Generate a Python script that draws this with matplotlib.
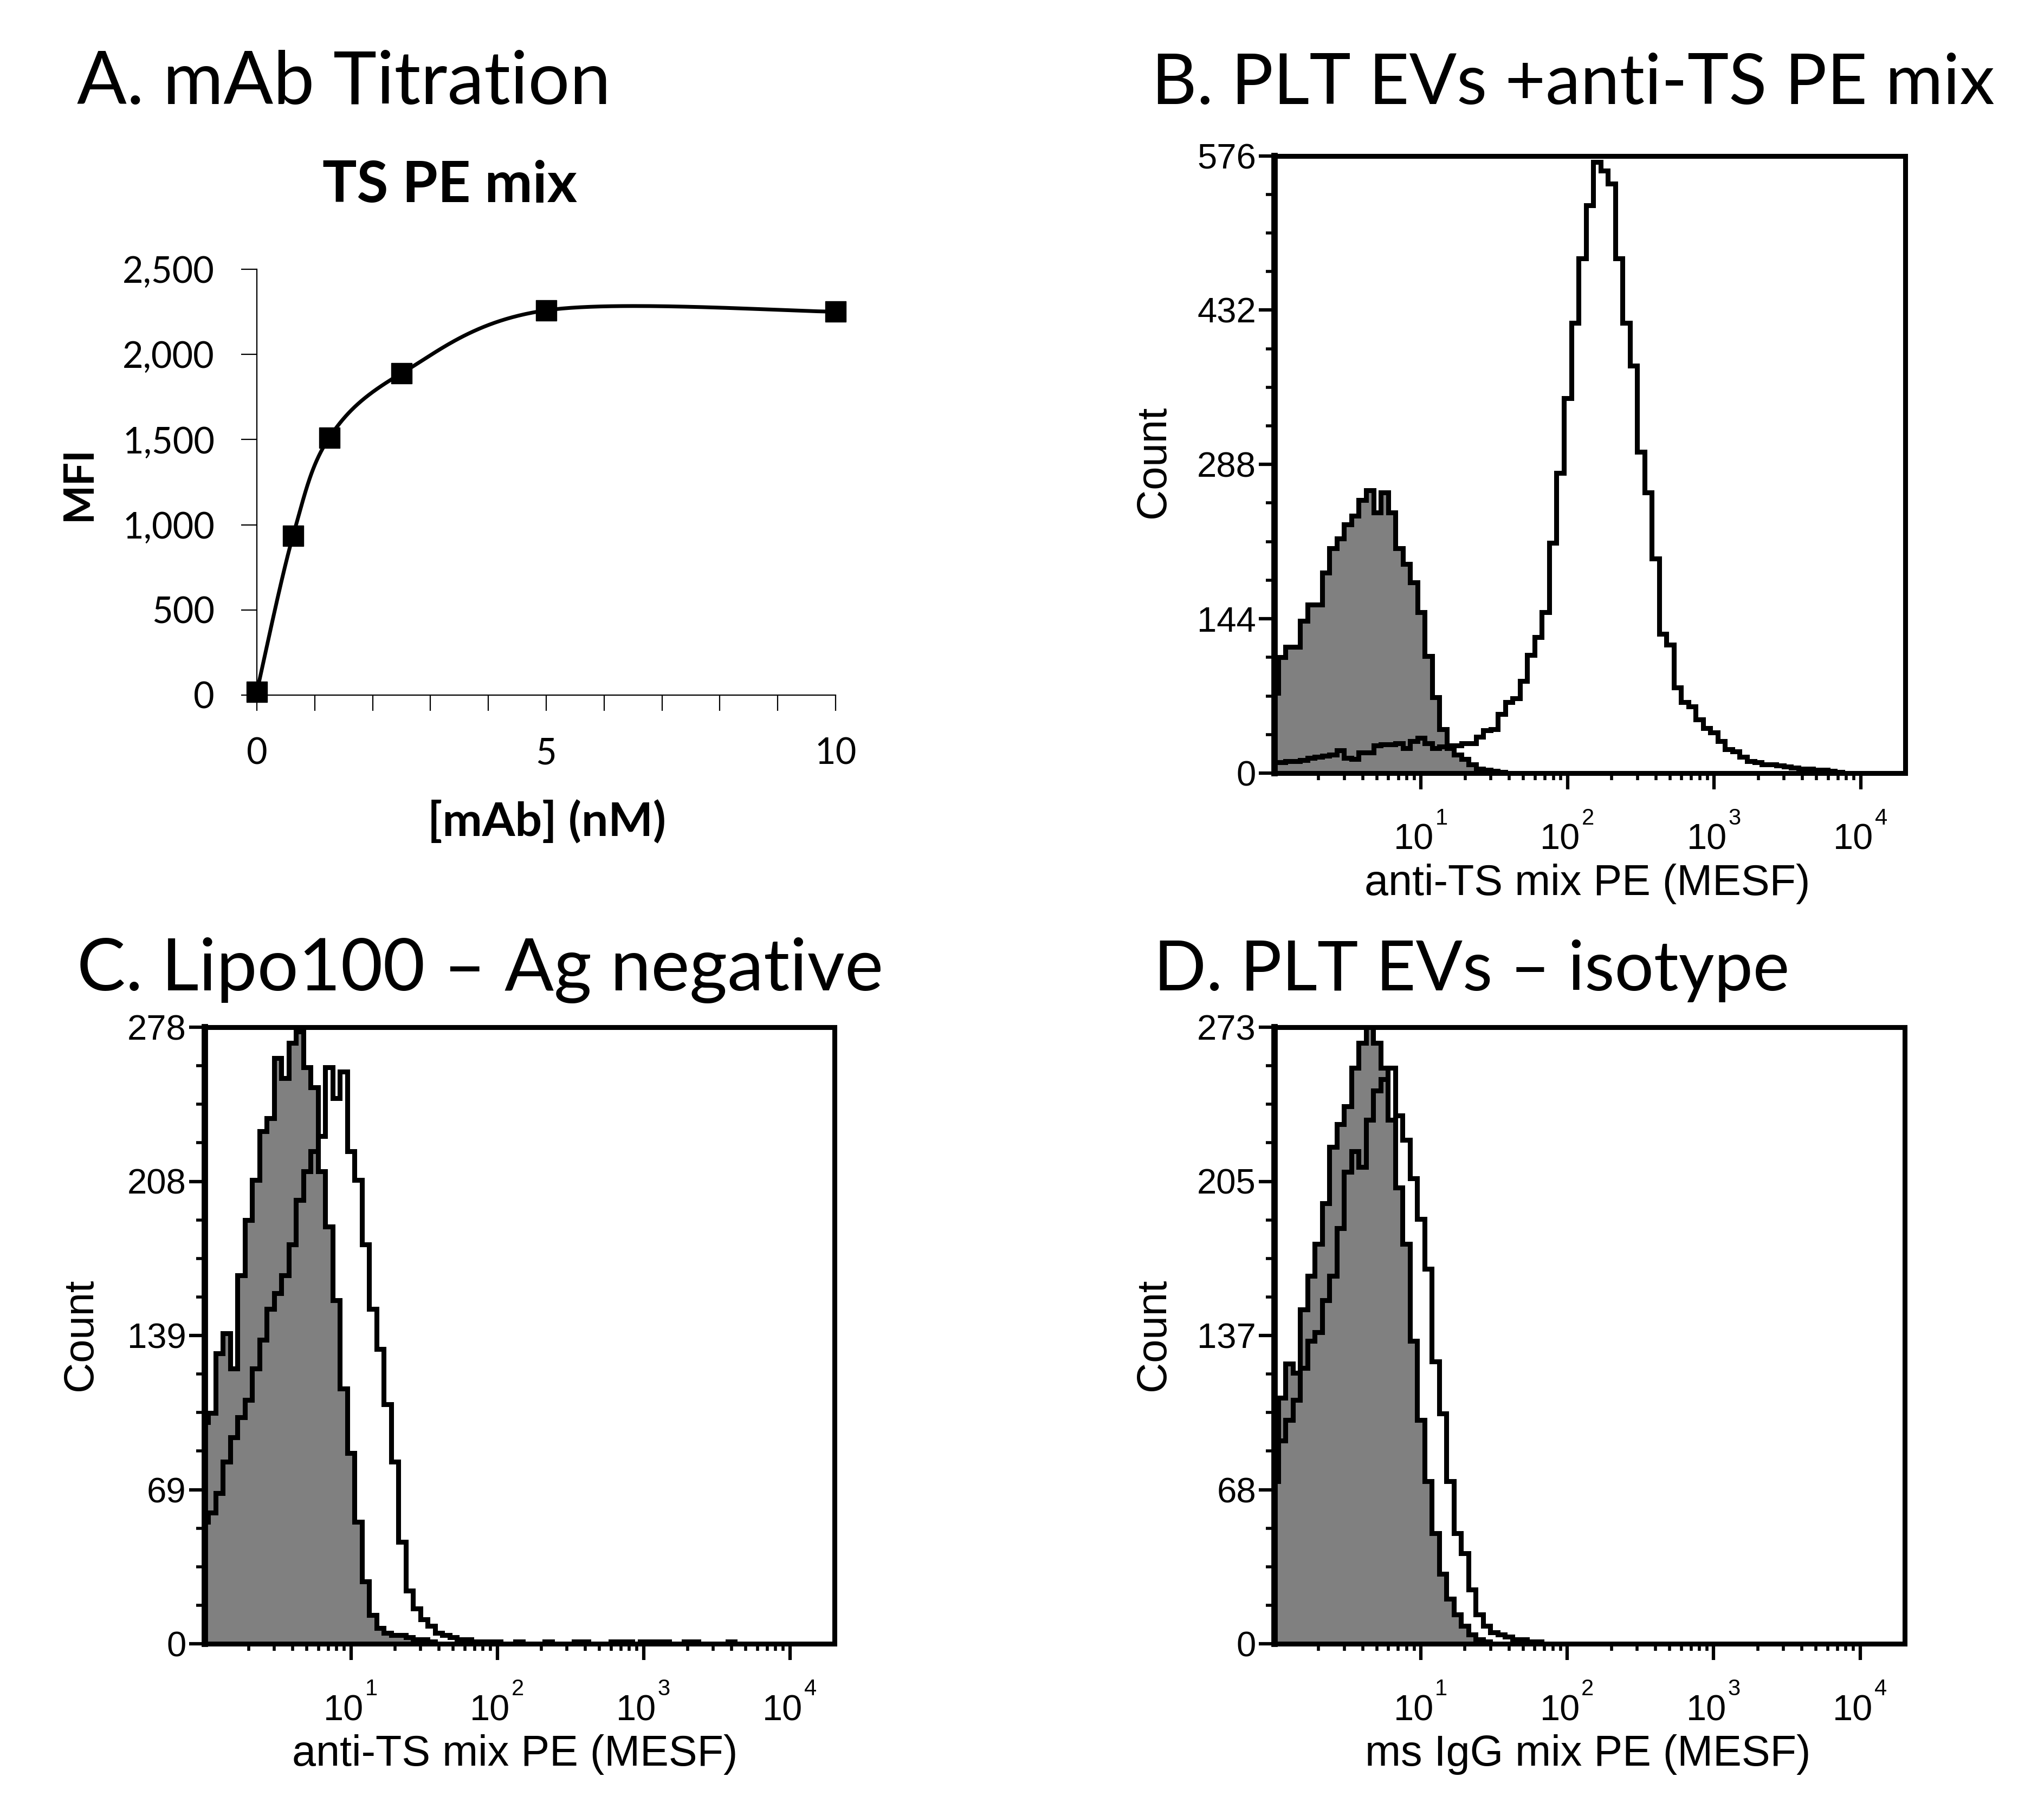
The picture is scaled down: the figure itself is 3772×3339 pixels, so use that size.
import numpy as np
import matplotlib
matplotlib.use("Agg")
import matplotlib.pyplot as plt
from matplotlib import transforms as mtrans
from matplotlib.ticker import FixedLocator, NullFormatter

W, H = 3772, 3339
DPI = 100

# ---------------- Panel A data ----------------
conc_nM = [0, 0.625, 1.25, 2.5, 5, 10]
mfi = [20, 936, 1511, 1889, 2259, 2251]
a_yticks = [0, 500, 1000, 1500, 2000, 2500]
a_ytick_labels = ["0", "500", "1,000", "1,500", "2,000", "2,500"]
a_xticks = [0, 1, 2, 3, 4, 5, 6, 7, 8, 9, 10]
a_xtick_labels = ["0", "", "", "", "", "5", "", "", "", "", "10"]

# ---------------- Histogram data ----------------
# counts per channel; channel centres at log10(MESF) = 0.00, 0.05, 0.10, ...
BIN_STEP = 0.05
b_neg = [75, 108, 118, 118, 142, 157, 157, 187, 210, 219, 232, 240, 255, 264, 243, 262,
         243, 210, 195, 178, 150, 109, 71, 41, 23, 17, 13, 8, 4, 3, 2, 1, 0]
b_pos = [10, 10, 11, 11, 12, 14, 15, 16, 17, 21, 14, 13, 19, 19, 26, 27, 27, 28, 23, 30,
         33, 28, 23, 25, 26, 26, 28, 28, 34, 40, 41, 55, 66, 70, 86, 110, 127, 150, 215, 280,
         350, 420, 480, 530, 570, 562, 550, 480, 420, 380, 300, 262, 200, 130, 120, 80, 66, 62,
         50, 42, 38, 30, 22, 20, 15, 11, 10, 8, 8, 7, 6, 5, 4, 4, 3, 3, 2, 1, 0]
c_neg = [100, 104, 131, 140, 124, 166, 191, 209, 231, 237, 264, 255, 271, 276, 260, 251,
         213, 188, 155, 115, 86, 55, 28, 13, 7, 5, 4, 4, 3, 2, 2, 1, 0]
c_pos = [55, 59, 68, 82, 93, 102, 110, 124, 137, 151, 158, 166, 180, 200, 213, 222, 229,
         260, 246, 258, 222, 209, 180, 151, 133, 108, 82, 46, 24, 16, 11, 8, 5, 4, 3, 2, 2,
         1, 1, 1, 1, 0, 0, 1, 0, 0, 0, 1, 0, 0, 0, 1, 1, 0, 0, 0, 1, 1, 1, 0, 1, 1, 1, 1, 0,
         0, 1, 1, 0, 0, 0, 0, 1, 0]
d_neg = [81, 109, 124, 120, 148, 163, 177, 195, 220, 230, 238, 255, 266, 273, 266, 255,
         232, 202, 177, 134, 99, 72, 49, 31, 20, 13, 8, 4, 2, 1, 0]
d_pos = [72, 90, 99, 108, 122, 134, 138, 152, 163, 184, 209, 218, 211, 232, 245, 250, 255,
         234, 223, 206, 188, 166, 125, 102, 72, 49, 40, 24, 13, 8, 5, 4, 3, 2, 2, 1, 1, 0]

b_ymax, c_ymax, d_ymax = 576, 278, 273
b_ylabels = ["0", "144", "288", "432", "576"]
c_ylabels = ["0", "69", "139", "208", "278"]
d_ylabels = ["0", "68", "137", "205", "273"]
decades = [1, 2, 3, 4]

titles = ["A. mAb Titration", "B. PLT EVs +anti-TS PE mix",
          "C. Lipo100 \u2013 Ag negative", "D. PLT EVs \u2013 isotype"]
xlabels = ["anti-TS mix PE (MESF)", "anti-TS mix PE (MESF)", "ms IgG mix PE (MESF)"]

# ---------------- figure ----------------
fig = plt.figure(figsize=(W / DPI, H / DPI), dpi=DPI)
renderer = fig.canvas.get_renderer()
PX = 72.0 / DPI  # points per pixel


def rect(l, t, r, b):
    return [l / W, 1 - b / H, (r - l) / W, (b - t) / H]


def fx(x):
    return x / W


def fy(y):
    return 1 - y / H


CAL = ["Lato", "DejaVu Sans"]
ARI = ["Liberation Sans", "DejaVu Sans"]


def fit(txt, target, use_height=False):
    bb = txt.get_window_extent(renderer)
    cur = bb.height if use_height else bb.width
    txt.set_fontsize(txt.get_fontsize() * target / cur)


# ---------------- Panel A ----------------
axA = fig.add_axes(rect(474, 497, 1542, 1283))
# Excel-like smoothed line (Catmull-Rom as cubic Bezier)
px_ = np.array(conc_nM, float)
py_ = np.array(mfi, float)
xs, ys = [], []
n = len(px_)
for i in range(n - 1):
    p0 = (px_[max(i - 1, 0)], py_[max(i - 1, 0)])
    p1 = (px_[i], py_[i])
    p2 = (px_[i + 1], py_[i + 1])
    p3 = (px_[min(i + 2, n - 1)], py_[min(i + 2, n - 1)])
    c1 = (p1[0] + (p2[0] - p0[0]) / 6, p1[1] + (p2[1] - p0[1]) / 6)
    c2 = (p2[0] - (p3[0] - p1[0]) / 6, p2[1] - (p3[1] - p1[1]) / 6)
    t = np.linspace(0, 1, 60)
    for k in range(2):
        arr = ((1 - t) ** 3 * p1[k] + 3 * (1 - t) ** 2 * t * c1[k]
               + 3 * (1 - t) * t ** 2 * c2[k] + t ** 3 * p2[k])
        (xs if k == 0 else ys).append(arr)
axA.plot(np.concatenate(xs), np.concatenate(ys), color="black", lw=5, clip_on=False,
         solid_capstyle="round", zorder=3)
axA.plot(conc_nM, mfi, linestyle="none", marker="s", ms=27, color="black", clip_on=False,
         zorder=4)
axA.set_xlim(0, 10)
axA.set_ylim(0, 2500)
for s in ["top", "right"]:
    axA.spines[s].set_visible(False)
for s in ["left", "bottom"]:
    axA.spines[s].set_linewidth(1.6)
axA.set_yticks(a_yticks)
axA.set_yticklabels(a_ytick_labels)
axA.set_xticks(a_xticks)
axA.set_xticklabels(a_xtick_labels)
axA.tick_params(axis="both", direction="out", length=29 * PX, width=1.6, pad=49 * PX,
                labelsize=48)
for lab in axA.get_xticklabels() + axA.get_yticklabels():
    lab.set_fontfamily(CAL)

tA = fig.text(fx(830), fy(373), "TS PE mix", ha="center", va="baseline",
              fontsize=60, fontweight="bold", family=CAL)
tM = fig.text(fx(146), fy(892), "MFI", ha="center", va="center", rotation=90,
              fontsize=50, fontweight="bold", family=CAL)
tX = fig.text(fx(1009), fy(1543), "[mAb] (nM)", ha="center", va="baseline",
              fontsize=50, fontweight="bold", family=CAL)
fit(tA, 470)
fit(tX, 440)
fit(tM, 138, use_height=True)

# titles: (left, baseline, width) in pixels
title_geom = [(142, 192, 986), (2125, 192, 1556), (142, 1828, 1489), (2129, 1828, 1174)]
for s, (x, y, w) in zip(titles, title_geom):
    t = fig.text(fx(x), fy(y), s, ha="left", va="baseline", fontsize=95, family=CAL)
    fit(t, w)


# ---------------- histogram panels ----------------
def stairs_from(counts):
    cnt = np.array(counts, float)
    centres = np.arange(len(cnt)) * BIN_STEP
    edges = np.concatenate([centres - BIN_STEP / 2, [centres[-1] + BIN_STEP / 2]])
    return cnt, 10 ** edges


def hist_panel(r, neg, pos, ymax, ylabels, xlabel, count_xy, xlabel_xy):
    ax = fig.add_axes(r)
    cn, en = stairs_from(neg)
    cp, ep = stairs_from(pos)
    ax.stairs(cn, en, fill=True, color="#808080", lw=0, zorder=1)
    ax.stairs(cn, en, color="black", lw=6.5, baseline=None, zorder=3)
    ax.stairs(cp, ep, color="black", lw=6.5, baseline=None, zorder=3)
    ax.set_xscale("log")
    ax.set_xlim(10 ** 0.0, 10 ** 4.305)
    ax.set_ylim(0, ymax)
    for s in ["top", "right", "bottom"]:
        ax.spines[s].set_linewidth(6.5)
    ax.spines["left"].set_linewidth(8.5)
    # y ticks
    ax.yaxis.set_major_locator(FixedLocator([ymax * k / 4 for k in range(5)]))
    ax.yaxis.set_minor_locator(FixedLocator([ymax * k / 16 for k in range(17) if k % 4]))
    ax.set_yticklabels(ylabels)
    ax.tick_params(axis="y", which="major", direction="out", length=29 * PX, width=4.5,
                   pad=5 * PX, labelsize=47)
    ax.tick_params(axis="y", which="minor", direction="out", length=16 * PX, width=4)
    # x ticks
    ax.xaxis.set_major_locator(FixedLocator([10.0 ** d for d in decades]))
    ax.xaxis.set_minor_locator(FixedLocator([k * 10.0 ** d for d in range(4)
                                             for k in range(2, 10)]))
    ax.xaxis.set_major_formatter(NullFormatter())
    ax.xaxis.set_minor_formatter(NullFormatter())
    ax.tick_params(axis="x", which="major", direction="out", length=30 * PX, width=4.5)
    ax.tick_params(axis="x", which="minor", direction="out", length=13 * PX, width=4)
    for lab in ax.get_yticklabels():
        lab.set_fontfamily(ARI)
    base = ax.get_xaxis_transform()
    for d in decades:
        t1 = mtrans.offset_copy(base, fig=fig, x=-13.5, y=-141, units="dots")
        ax.text(10.0 ** d, 0, "10", transform=t1, ha="center", va="baseline",
                fontsize=48, family=ARI)
        t2 = mtrans.offset_copy(base, fig=fig, x=26, y=-95, units="dots")
        ax.text(10.0 ** d, 0, str(d), transform=t2, ha="left", va="baseline",
                fontsize=30, family=ARI)
    fig.text(fx(count_xy[0]), fy(count_xy[1]), "Count", rotation=90, ha="center",
             va="center", fontsize=56, family=ARI)
    fig.text(fx(xlabel_xy[0]), fy(xlabel_xy[1]), xlabel, ha="center", va="baseline",
             fontsize=57, family=ARI)
    return ax


hist_panel(rect(2352, 287.5, 3516, 1427), b_neg, b_pos, b_ymax, b_ylabels, xlabels[0],
           (2129, 852), (2929, 1652))
hist_panel(rect(377.5, 1896, 1540, 3034), c_neg, c_pos, c_ymax, c_ylabels, xlabels[1],
           (149, 2463), (950, 3259))
hist_panel(rect(2352, 1896, 3515, 3034), d_neg, d_pos, d_ymax, d_ylabels, xlabels[2],
           (2129, 2463), (2930, 3259))

fig.savefig("out.png", dpi=DPI, facecolor="white")
